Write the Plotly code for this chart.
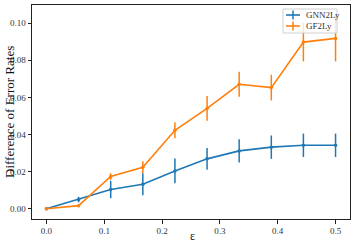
import plotly.graph_objects as go

eps = [0.0, 0.0556, 0.1111, 0.1667, 0.2222, 0.2778, 0.3333, 0.3889, 0.4444, 0.5]
gnn_mean = [0.0, 0.0050, 0.0104, 0.0132, 0.0204, 0.0269, 0.0312, 0.0332, 0.0342, 0.0342]
gnn_err = [0.0002, 0.0015, 0.0047, 0.0059, 0.0067, 0.0059, 0.0063, 0.0063, 0.0063, 0.0063]
gf_mean = [0.0, 0.0017, 0.0174, 0.0224, 0.0423, 0.0541, 0.0671, 0.0653, 0.0898, 0.0918]
gf_err = [0.0002, 0.0004, 0.0018, 0.0032, 0.0043, 0.0067, 0.0068, 0.0069, 0.0104, 0.0124]

names = ["GNN2Ly", "GF2Ly"]
colors = ["#1f77b4", "#ff7f0e"]
means = [gnn_mean, gf_mean]
errs = [gnn_err, gf_err]

font_family = "Liberation Serif, DejaVu Serif, serif"

W, H = 354, 246
ML, MR, MT, MB = 32, 4, 5, 27
PW, PH = W - ML - MR, H - MT - MB


def px(x):
    return (x - ML) / PW


def py(y):
    return (H - MB - y) / PH


fig = go.Figure()
for name, c, m, e in zip(names, colors, means, errs):
    fig.add_trace(go.Scatter(
        x=eps, y=m, mode="lines+markers", name=name, showlegend=False,
        line=dict(color=c, width=1.6),
        marker=dict(color=c, size=3.5),
        error_y=dict(type="data", array=e, visible=True, color=c, thickness=1.5, width=0),
    ))

# manual legend (matplotlib style)
shapes = [dict(type="rect", xref="paper", yref="paper",
               x0=px(283), x1=px(337), y0=py(33), y1=py(9),
               fillcolor="rgba(255,255,255,0.8)", line=dict(color="#d0d0d0", width=1))]
annotations = []
for i, (name, c) in enumerate(zip(names, colors)):
    yy = 15 + i * 11
    shapes.append(dict(type="line", xref="paper", yref="paper",
                       x0=px(286), x1=px(300), y0=py(yy), y1=py(yy),
                       line=dict(color=c, width=1.6)))
    shapes.append(dict(type="line", xref="paper", yref="paper",
                       x0=px(293), x1=px(293), y0=py(yy - 4.5), y1=py(yy + 4.5),
                       line=dict(color=c, width=1.5)))
    annotations.append(dict(text=name, xref="paper", yref="paper",
                            x=px(304), y=py(yy), xanchor="left", yanchor="middle",
                            showarrow=False,
                            font=dict(family=font_family, size=9, color="#333")))

annotations += [
    dict(text="Difference of Error Rates", xref="paper", yref="paper",
         x=px(9), y=0.5, xanchor="center", yanchor="middle", textangle=-90,
         showarrow=False, font=dict(family=font_family, size=13, color="#111")),
    dict(text="ε", xref="paper", yref="paper",
         x=px(192), y=py(236), xanchor="center", yanchor="middle",
         showarrow=False, font=dict(family=font_family, size=12, color="#111")),
]

axis_common = dict(
    showline=True, linecolor="#222", linewidth=1, mirror=True,
    ticks="outside", ticklen=3.5, tickwidth=0.8, tickcolor="#222",
    showgrid=False, zeroline=False, automargin=False,
    tickfont=dict(family=font_family, size=9, color="#333"),
)

fig.update_layout(
    width=W, height=H,
    margin=dict(l=ML, r=MR, t=MT, b=MB),
    paper_bgcolor="white", plot_bgcolor="white",
    font=dict(family=font_family, color="#222"),
    showlegend=False,
    xaxis=dict(range=[-0.025, 0.525], tickvals=[0, 0.1, 0.2, 0.3, 0.4, 0.5],
               ticktext=["0.0", "0.1", "0.2", "0.3", "0.4", "0.5"], **axis_common),
    yaxis=dict(range=[-0.0055, 0.1098], tickvals=[0, 0.02, 0.04, 0.06, 0.08, 0.10],
               ticktext=["0.00", "0.02", "0.04", "0.06", "0.08", "0.10"], **axis_common),
    shapes=shapes,
    annotations=annotations,
)

fig.write_html("out.html", config={"displayModeBar": False},
               post_script="document.body.style.margin='0';")
